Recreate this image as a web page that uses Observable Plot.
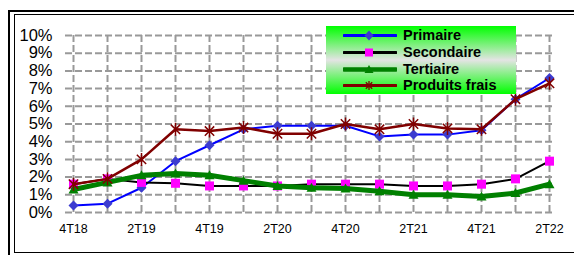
<!DOCTYPE html>
<html><head><meta charset="utf-8">
<script src="https://cdn.jsdelivr.net/npm/d3@7"></script>
<script src="https://cdn.jsdelivr.net/npm/@observablehq/plot@0.6"></script>
<style>
body{margin:0;background:#fff;}
#wrap{position:relative;width:574px;height:255px;overflow:hidden;font-family:"Liberation Sans",Arial,sans-serif;background:#fff;}
.f1{position:absolute;left:8px;top:10px;width:620px;height:300px;border:2px solid #000;box-sizing:border-box;}
.f2{position:absolute;left:14px;top:14px;width:600px;height:239px;border:1.5px solid #000;box-sizing:border-box;}
#chart{position:absolute;left:0;top:0;}
#legend{position:absolute;left:326px;top:26px;width:190px;height:68px;background:linear-gradient(#00ff00,#e4e4e4 50%,#00ff00);}
#legend .row{position:absolute;left:0;height:17px;width:190px;}
#legend svg{position:absolute;left:17px;top:0;}
#legend span{position:absolute;left:77px;top:0;line-height:17px;font-weight:bold;font-size:14.5px;color:#000;white-space:nowrap;}
</style></head>
<body>
<div id="wrap">
  <div class="f1"></div><div class="f2"></div>
  <div id="chart"></div>
  <div id="legend"></div>
</div>
<script>
const quarters = ["4T18","1T19","2T19","3T19","4T19","1T20","2T20","3T20","4T20","1T21","2T21","3T21","4T21","1T22","2T22"];
const xTickLabels = ["4T18","2T19","4T19","2T20","4T20","2T21","4T21","2T22"];
const yTicks = [0,1,2,3,4,5,6,7,8,9,10];
const seriesNames = ["Primaire","Secondaire","Tertiaire","Produits frais"];
const primaire      = [0.4,0.5,1.4,2.9,3.8,4.7,4.9,4.9,4.9,4.3,4.4,4.4,4.65,6.4,7.6];
const secondaire    = [1.6,1.9,1.7,1.65,1.5,1.5,1.5,1.6,1.6,1.6,1.5,1.5,1.6,1.9,2.9];
const tertiaire     = [1.3,1.7,2.1,2.2,2.1,1.8,1.5,1.4,1.35,1.2,1.0,1.0,0.9,1.1,1.6];
const produitsFrais = [1.6,1.9,3.0,4.7,4.6,4.8,4.45,4.45,5.0,4.7,5.0,4.75,4.7,6.4,7.3];

const toRows = vals => quarters.map((q,i)=>({q, v: vals[i]}));

const sym = fn => ({draw(c, size){ const r = Math.sqrt(size/Math.PI); fn(c, r); }});
const diamondS = sym((c,r)=>{c.moveTo(0,-r);c.lineTo(r,0);c.lineTo(0,r);c.lineTo(-r,0);c.closePath();});
const squareS = sym((c,r)=>{c.moveTo(-r,-r);c.lineTo(r,-r);c.lineTo(r,r);c.lineTo(-r,r);c.closePath();});
const triangleS = sym((c,r)=>{c.moveTo(0,-r);c.lineTo(r,r*0.8);c.lineTo(-r,r*0.8);c.closePath();});
const starS = sym((c,r)=>{const k=r*0.72;c.moveTo(0,-r);c.lineTo(0,r);c.moveTo(-k,-k);c.lineTo(k,k);c.moveTo(-k,k);c.lineTo(k,-k);});

const styles = [
  {vals: primaire, line:"#0000ff", lw:2, symbol: diamondS, r:5, fill:"#3c3cd0", stroke:"none"},
  {vals: secondaire, line:"#000000", lw:2, symbol: squareS, r:4.5, fill:"#ff00ff", stroke:"none"},
  {vals: tertiaire, line:"#008000", lw:5, symbol: triangleS, r:5, fill:"#008000", stroke:"none"},
  {vals: produitsFrais, line:"#800000", lw:2.5, symbol: starS, r:6.5, fill:"none", stroke:"#800000"}
];

const marks = [
  Plot.ruleY(yTicks, {y: d=>d, stroke:"#999", strokeWidth:2, strokeDasharray:"7,3", insetLeft:-4}),
  Plot.ruleX(quarters, {x: d=>d, stroke:"#999", strokeWidth:2, strokeDasharray:"7,3"}),
  Plot.axisX(xTickLabels, {tickSize:0, tickPadding:12, fontSize:12.5, label:null}),
  Plot.axisY(yTicks, {tickSize:0, tickPadding:17, fontSize:16.5, label:null, tickFormat: d=>d+"%"})
];
for (const s of styles) {
  const rows = toRows(s.vals);
  marks.push(Plot.line(rows, {x:"q", y:"v", stroke:s.line, strokeWidth:s.lw, strokeLinejoin:"round"}));
  marks.push(Plot.dot(rows, {x:"q", y:"v", symbol:s.symbol, r:s.r, fill:s.fill, stroke:s.stroke, strokeWidth:1.5}));
}

const chart = Plot.plot({
  width:574, height:255,
  marginLeft:69, marginRight:21, marginTop:35, marginBottom:43,
  style:{fontFamily:'"Liberation Sans", Arial, sans-serif', color:"#000", background:"transparent"},
  x:{type:"point", domain:quarters, padding:0, label:null},
  y:{domain:[0,10], label:null},
  marks
});
document.getElementById("chart").appendChild(chart);

// legend
const lg = d3.select("#legend");
const legendSym = [
  (g)=>g.append("path").attr("d","M26,3.5L30.5,8.5L26,13.5L21.5,8.5Z").attr("fill","#3c3cd0"),
  (g)=>g.append("rect").attr("x",22).attr("y",4.5).attr("width",8).attr("height",8).attr("fill","#ff00ff"),
  (g)=>g.append("path").attr("d","M26,4L30.5,12L21.5,12Z").attr("fill","#008000"),
  (g)=>g.append("path").attr("d","M26,4V13M22.8,5.3L29.2,11.7M22.8,11.7L29.2,5.3").attr("stroke","#800000").attr("stroke-width",1.3).attr("fill","none")
];
seriesNames.forEach((name,i)=>{
  const row = lg.append("div").attr("class","row").style("top",(1+i*16.8)+"px");
  const svg = row.append("svg").attr("width",54).attr("height",17);
  svg.append("line").attr("x1",1).attr("x2",53).attr("y1",8.5).attr("y2",8.5)
    .attr("stroke",styles[i].line).attr("stroke-width", i===2?4.5:3).attr("stroke-linecap","round");
  legendSym[i](svg);
  row.append("span").text(name);
});
</script>
</body></html>
